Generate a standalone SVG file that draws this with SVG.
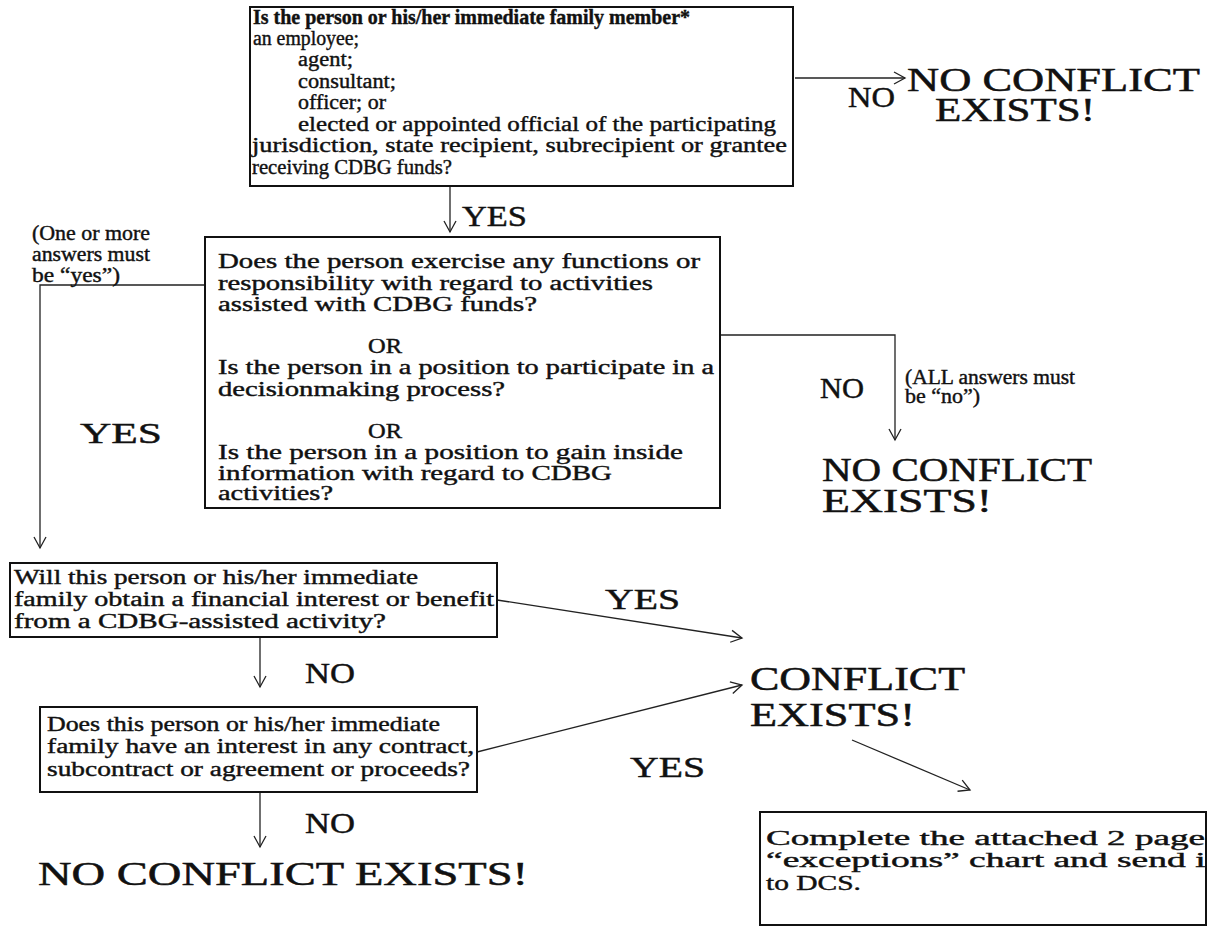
<svg xmlns="http://www.w3.org/2000/svg" width="1212" height="928" viewBox="0 0 1212 928">
<style>
.box{fill:none;stroke:#111;stroke-width:2}
.con{fill:none;stroke:#222;stroke-width:1.3}
.t{font-family:"Liberation Serif","Times New Roman",serif;font-size:20px;fill:#111;stroke:#111;stroke-width:0.4}
.b{font-weight:bold}
.big{font-family:"Liberation Serif","Times New Roman",serif;font-size:33px;fill:#111;stroke:#111;stroke-width:0.5}
.mid{font-family:"Liberation Serif","Times New Roman",serif;font-size:30px;fill:#111;stroke:#111;stroke-width:0.45}
</style>
<defs>
<marker id="arr" markerWidth="14" markerHeight="14" refX="12" refY="7" orient="auto" markerUnits="userSpaceOnUse">
<path d="M1,1 L12,7 L1,13" fill="none" stroke="#222" stroke-width="1.3"/>
</marker>
<clipPath id="clip5"><rect x="760" y="812" width="446" height="114"/></clipPath>
</defs>
<rect width="1212" height="928" fill="#fff"/>

<g id="connectors">
<path class="con" d="M795,78 L905,78" marker-end="url(#arr)"/>
<path class="con" d="M450,186 L450,232" marker-end="url(#arr)"/>
<path class="con" d="M205,285 L40,285 L40,548" marker-end="url(#arr)"/>
<path class="con" d="M720,335 L895,335 L895,440" marker-end="url(#arr)"/>
<path class="con" d="M260,637 L260,687" marker-end="url(#arr)"/>
<path class="con" d="M260,792 L260,847" marker-end="url(#arr)"/>
<path class="con" d="M497,600 L742,638" marker-end="url(#arr)"/>
<path class="con" d="M477,752 L742,685" marker-end="url(#arr)"/>
<path class="con" d="M852,740 L970,790" marker-end="url(#arr)"/>
</g>

<g id="q1">
<rect class="box" x="250" y="7" width="543" height="179"/>
<text class="t b" x="253" y="24" textLength="437" lengthAdjust="spacingAndGlyphs">Is the person or his/her immediate family member*</text>
<text class="t" x="253" y="45" textLength="106" lengthAdjust="spacingAndGlyphs">an employee;</text>
<text class="t" x="298" y="66" textLength="55" lengthAdjust="spacingAndGlyphs">agent;</text>
<text class="t" x="298" y="88" textLength="98" lengthAdjust="spacingAndGlyphs">consultant;</text>
<text class="t" x="298" y="109" textLength="88" lengthAdjust="spacingAndGlyphs">officer; or</text>
<text class="t" x="298" y="131" textLength="478" lengthAdjust="spacingAndGlyphs">elected or appointed official of the participating</text>
<text class="t" x="252" y="152" textLength="535" lengthAdjust="spacingAndGlyphs">jurisdiction, state recipient, subrecipient or grantee</text>
<text class="t" x="252" y="174" textLength="200" lengthAdjust="spacingAndGlyphs">receiving CDBG funds?</text>
</g>

<g id="lbl-no1">
<text class="mid" x="848" y="107" textLength="47" lengthAdjust="spacingAndGlyphs">NO</text>
</g>
<g id="end-noconflict1">
<text class="big" x="907" y="91" textLength="293" lengthAdjust="spacingAndGlyphs">NO CONFLICT</text>
<text class="big" x="935" y="121" textLength="160" lengthAdjust="spacingAndGlyphs">EXISTS!</text>
</g>
<g id="lbl-yes1">
<text class="mid" x="462" y="226" textLength="65" lengthAdjust="spacingAndGlyphs">YES</text>
</g>

<g id="note-yes">
<text class="t" x="32" y="240" textLength="118" lengthAdjust="spacingAndGlyphs">(One or more</text>
<text class="t" x="32" y="261" textLength="118" lengthAdjust="spacingAndGlyphs">answers must</text>
<text class="t" x="32" y="282" textLength="88" lengthAdjust="spacingAndGlyphs">be “yes”)</text>
</g>
<g id="lbl-yes2">
<text class="mid" x="80" y="443" textLength="82" lengthAdjust="spacingAndGlyphs">YES</text>
</g>

<g id="q2">
<rect class="box" x="205" y="237" width="515" height="271"/>
<text class="t" x="218" y="268" textLength="482" lengthAdjust="spacingAndGlyphs">Does the person exercise any functions or</text>
<text class="t" x="218" y="290" textLength="435" lengthAdjust="spacingAndGlyphs">responsibility with regard to activities</text>
<text class="t" x="218" y="311" textLength="319" lengthAdjust="spacingAndGlyphs">assisted with CDBG funds?</text>
<text class="t" x="368" y="353" textLength="34" lengthAdjust="spacingAndGlyphs">OR</text>
<text class="t" x="218" y="374" textLength="496" lengthAdjust="spacingAndGlyphs">Is the person in a position to participate in a</text>
<text class="t" x="218" y="396" textLength="287" lengthAdjust="spacingAndGlyphs">decisionmaking process?</text>
<text class="t" x="368" y="438" textLength="34" lengthAdjust="spacingAndGlyphs">OR</text>
<text class="t" x="218" y="459" textLength="465" lengthAdjust="spacingAndGlyphs">Is the person in a position to gain inside</text>
<text class="t" x="218" y="480" textLength="394" lengthAdjust="spacingAndGlyphs">information with regard to CDBG</text>
<text class="t" x="218" y="500" textLength="115" lengthAdjust="spacingAndGlyphs">activities?</text>
</g>

<g id="lbl-no2">
<text class="mid" x="820" y="398" textLength="44" lengthAdjust="spacingAndGlyphs">NO</text>
</g>
<g id="note-no">
<text class="t" x="905" y="384" textLength="170" lengthAdjust="spacingAndGlyphs">(ALL answers must</text>
<text class="t" x="905" y="403" textLength="75" lengthAdjust="spacingAndGlyphs">be “no”)</text>
</g>
<g id="end-noconflict2">
<text class="big" x="822" y="481" textLength="270" lengthAdjust="spacingAndGlyphs">NO CONFLICT</text>
<text class="big" x="822" y="512" textLength="170" lengthAdjust="spacingAndGlyphs">EXISTS!</text>
</g>

<g id="q3">
<rect class="box" x="10" y="563" width="487" height="74"/>
<text class="t" x="14" y="584" textLength="404" lengthAdjust="spacingAndGlyphs">Will this person or his/her immediate</text>
<text class="t" x="14" y="606" textLength="480" lengthAdjust="spacingAndGlyphs">family obtain a financial interest or benefit</text>
<text class="t" x="14" y="628" textLength="372" lengthAdjust="spacingAndGlyphs">from a CDBG-assisted activity?</text>
</g>
<g id="lbl-no3">
<text class="mid" x="305" y="683" textLength="50" lengthAdjust="spacingAndGlyphs">NO</text>
</g>
<g id="lbl-yes3">
<text class="mid" x="605" y="609" textLength="75" lengthAdjust="spacingAndGlyphs">YES</text>
</g>

<g id="q4">
<rect class="box" x="40" y="707" width="437" height="85"/>
<text class="t" x="47" y="731" textLength="393" lengthAdjust="spacingAndGlyphs">Does this person or his/her immediate</text>
<text class="t" x="47" y="753" textLength="427" lengthAdjust="spacingAndGlyphs">family have an interest in any contract,</text>
<text class="t" x="47" y="776" textLength="423" lengthAdjust="spacingAndGlyphs">subcontract or agreement or proceeds?</text>
</g>
<g id="lbl-no4">
<text class="mid" x="305" y="833" textLength="50" lengthAdjust="spacingAndGlyphs">NO</text>
</g>
<g id="lbl-yes4">
<text class="mid" x="630" y="777" textLength="75" lengthAdjust="spacingAndGlyphs">YES</text>
</g>
<g id="end-noconflict3">
<text class="big" x="38" y="885" textLength="490" lengthAdjust="spacingAndGlyphs">NO CONFLICT EXISTS!</text>
</g>

<g id="end-conflict">
<text class="big" x="750" y="690" textLength="215" lengthAdjust="spacingAndGlyphs">CONFLICT</text>
<text class="big" x="750" y="726" textLength="165" lengthAdjust="spacingAndGlyphs">EXISTS!</text>
</g>

<g id="action">
<g clip-path="url(#clip5)">
<text class="t" x="766" y="845" textLength="439" lengthAdjust="spacingAndGlyphs">Complete the attached 2 page</text>
<text class="t" x="766" y="867" textLength="450" lengthAdjust="spacingAndGlyphs">“exceptions” chart and send it</text>
<text class="t" x="766" y="890" textLength="95" lengthAdjust="spacingAndGlyphs">to DCS.</text>
</g>
<rect class="box" x="760" y="812" width="446" height="113"/>
</g>
</svg>
